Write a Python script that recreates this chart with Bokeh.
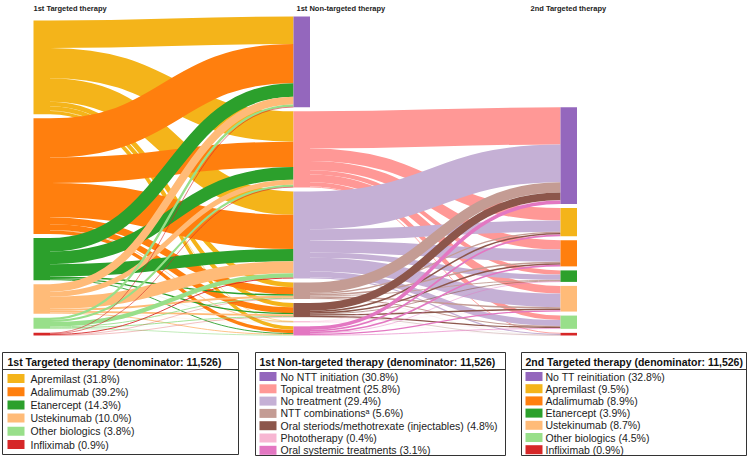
import numpy as np
from bokeh.plotting import figure
from bokeh.models import Range1d, ColumnDataSource
from bokeh.core.properties import value
from bokeh.embed import file_html
from bokeh.resources import INLINE

# ---------------- data (percent of denominator 11,526) ----------------
tt1_labels = ["Apremilast", "Adalimumab", "Etanercept", "Ustekinumab",
              "Other biologics", "Infliximab"]
tt1_pct = [31.8, 39.2, 14.3, 10.0, 3.8, 0.9]

ntt_labels = ["No NTT initiation", "Topical treatment", "No treatment",
              "NTT combinations\u1d43", "Oral steriods/methotrexate (injectables)",
              "Phototherapy", "Oral systemic treatments"]
ntt_pct = [30.8, 25.8, 29.4, 5.6, 4.8, 0.4, 3.1]

tt2_labels = ["No TT reinitiation", "Apremilast", "Adalimumab", "Etanercept",
              "Ustekinumab", "Other biologics", "Infliximab"]
tt2_pct = [32.8, 9.5, 8.9, 3.9, 8.7, 4.5, 0.9]

# flows 1st TT (rows) -> 1st NTT (cols)
flow_tt1_ntt = [
    [9.3, 10.3, 7.9, 1.6, 1.4, 0.15, 1.15],
    [13.3, 8.6, 11.6, 2.4, 2.0, 0.15, 1.15],
    [4.6, 4.3, 4.17, 0.5, 0.4, 0.03, 0.3],
    [2.6, 1.7, 4.05, 0.7, 0.6, 0.05, 0.3],
    [0.8, 0.7, 1.48, 0.3, 0.3, 0.02, 0.2],
    [0.2, 0.2, 0.3, 0.1, 0.1, 0.0, 0.0],
]
# flows 1st NTT (rows) -> 2nd TT (cols)
flow_ntt_tt2 = [
    [0, 0, 0, 0, 0, 0, 0],
    [12.6, 4.2, 3.2, 1.4, 2.6, 1.5, 0.3],
    [12.8, 3.8, 4.1, 1.8, 4.6, 2.0, 0.4],
    [3.5, 0.4, 0.5, 0.3, 0.5, 0.35, 0.05],
    [2.6, 0.5, 0.5, 0.2, 0.5, 0.4, 0.1],
    [0.1, 0.05, 0.05, 0.05, 0.05, 0.05, 0.05],
    [1.2, 0.55, 0.55, 0.15, 0.45, 0.2, 0.0],
]

column_titles = ["1st Targeted therapy", "1st Non-targeted therapy", "2nd Targeted therapy"]
legend_titles = ["1st Targeted therapy (denominator: 11,526)",
                 "1st Non-targeted therapy (denominator: 11,526)",
                 "2nd Targeted therapy (denominator: 11,526)"]

# ---------------- styles ----------------
tt_colors = ["#f4b41a", "#ff7f0e", "#2ca02c", "#ffbb78", "#98df8a", "#d62728"]
ntt_colors = ["#9467bd", "#ff9896", "#c5b0d5", "#c49c94", "#8c564b", "#f7b6d2", "#e377c2"]
tt2_colors = ["#9467bd"] + tt_colors

FONT = value("Liberation Sans")
K = 2.95        # px per percent
GAP = 4.0
BOTTOM = 335.0
NODE_W = 16.5
COL_X = [33.0, 293.0, 560.0]
W, H = 747, 456

A = np.array(flow_tt1_ntt, dtype=float)
B = np.array(flow_ntt_tt2, dtype=float)

size_left = A.sum(axis=1)
size_mid = A.sum(axis=0)
size_right = B.sum(axis=0)


def stack(sizes):
    total = sizes.sum() * K + GAP * (len(sizes) - 1)
    y = BOTTOM - total
    tops = []
    for s in sizes:
        tops.append(y)
        y += s * K + GAP
    return np.array(tops)


top_left = stack(size_left)
top_mid = stack(size_mid)
top_right = stack(size_right)

p = figure(width=W, height=H, x_range=Range1d(0, W), y_range=Range1d(H, 0),
           toolbar_location=None, output_backend="svg", min_border=0,
           x_axis_location=None, y_axis_location=None)
p.grid.visible = False
p.outline_line_color = None
p.background_fill_color = "white"


def links(M, top_s, top_t, xs, xt, colors):
    ns, nt = M.shape
    in_pos = np.zeros_like(M)
    for j in range(nt):
        y = top_t[j]
        for i in range(ns):
            in_pos[i, j] = y
            y += M[i, j] * K
    d = dict(x0=[], y0=[], x1=[], y1=[], cx0=[], cy0=[], cx1=[], cy1=[], w=[], c=[])
    for i in range(ns):
        y = top_s[i]
        for j in range(nt):
            v = M[i, j]
            if v <= 0:
                continue
            w = v * K
            ys = y + w / 2
            yt = in_pos[i, j] + w / 2
            xm = (xs + xt) / 2
            d["x0"].append(xs); d["y0"].append(ys)
            d["x1"].append(xt); d["y1"].append(yt)
            d["cx0"].append(xm); d["cy0"].append(ys)
            d["cx1"].append(xm); d["cy1"].append(yt)
            d["w"].append(w); d["c"].append(colors[i])
            y += w
    src = ColumnDataSource(d)
    p.bezier(x0="x0", y0="y0", x1="x1", y1="y1", cx0="cx0", cy0="cy0",
             cx1="cx1", cy1="cy1", line_width="w", line_color="c", source=src)


links(A, top_left, top_mid, COL_X[0] + NODE_W, COL_X[1], tt_colors)
links(B, top_mid, top_right, COL_X[1] + NODE_W, COL_X[2], ntt_colors)


def nodes(x, tops, sizes, colors):
    p.quad(left=x, right=x + NODE_W, top=list(tops), bottom=list(tops + sizes * K),
           fill_color=colors, line_color=None)


nodes(COL_X[0], top_left, size_left, tt_colors)
nodes(COL_X[1], top_mid, size_mid, ntt_colors)
nodes(COL_X[2], top_right, size_right, tt2_colors)

# column titles
p.text(x=[33, 296, 530], y=[3.5] * 3, text=column_titles, text_font=FONT,
       text_font_size="7.5px", text_font_style="bold", text_color="#222222",
       text_baseline="top", text_align="left")

# legend boxes
legend_specs = [
    dict(l=2, r=238, t=352, b=454, sep=369, hx=7, sx=7, tx=30, r0=378.0, step=13.2,
         labels=tt1_labels, pct=tt1_pct, colors=tt_colors, title=legend_titles[0]),
    dict(l=255, r=505, t=352, b=455, sep=369, hx=259, sx=259, tx=280, r0=376.0, step=12.3,
         labels=ntt_labels, pct=ntt_pct, colors=ntt_colors, title=legend_titles[1]),
    dict(l=521, r=746, t=352, b=455, sep=369, hx=525, sx=525, tx=545, r0=376.0, step=12.2,
         labels=tt2_labels, pct=tt2_pct, colors=tt2_colors, title=legend_titles[2]),
]
for s in legend_specs:
    p.quad(left=[s["l"]], right=[s["r"]], top=[s["t"]], bottom=[s["b"]],
           fill_color="white", line_color="#333333", line_width=1)
    p.segment(x0=[s["l"]], x1=[s["r"]], y0=[s["sep"]], y1=[s["sep"]],
              line_color="#333333", line_width=1)
    p.text(x=[s["hx"]], y=[(s["t"] + s["sep"]) / 2 + 0.5], text=[s["title"]],
           text_font=FONT, text_font_size="10.5px", text_font_style="bold",
           text_color="#111111", text_baseline="middle", text_align="left")
    n = len(s["labels"])
    ys = [s["r0"] + k * s["step"] for k in range(n)]
    p.quad(left=[s["sx"]] * n, right=[s["sx"] + 17] * n,
           top=[y - 4.5 for y in ys], bottom=[y + 4.5 for y in ys],
           fill_color=s["colors"], line_color=None)
    p.text(x=[s["tx"]] * n, y=ys,
           text=[f"{lab} ({v:.1f}%)" for lab, v in zip(s["labels"], s["pct"])],
           text_font=FONT, text_font_size="10.5px", text_color="#222222",
           text_baseline="middle", text_align="left")

open("out.html", "w").write(file_html(p, INLINE))
